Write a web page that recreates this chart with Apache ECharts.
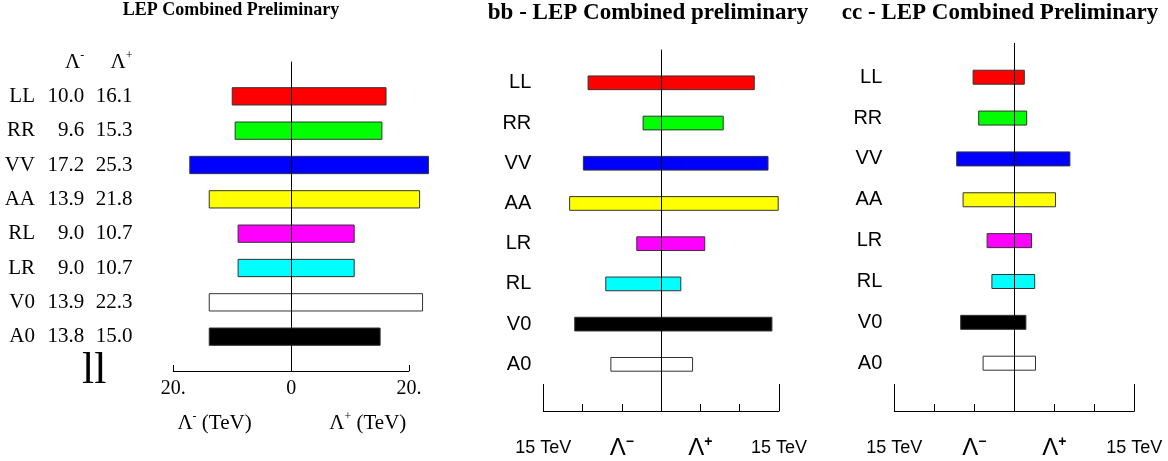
<!DOCTYPE html>
<html>
<head>
<meta charset="utf-8">
<script src="https://cdn.jsdelivr.net/npm/echarts@6/dist/echarts.min.js"></script>
<style>html,body{margin:0;padding:0;background:#fff}#c{width:1168px;height:461px}</style>
</head>
<body>
<div id="c"></div>
<script>
// ---------- data ----------
const llNames = ['LL', 'RR', 'VV', 'AA', 'RL', 'LR', 'V0', 'A0'];
const llMinusText = [10.0, 9.6, 17.2, 13.9, 9.0, 9.0, 13.9, 13.8];
const llPlusText = [16.1, 15.3, 25.3, 21.8, 10.7, 10.7, 22.3, 15.0];
const llMinus = [10.0, 9.5, 17.2, 13.9, 9.0, 9.0, 13.9, 13.9];
const llPlus = [16.1, 15.4, 23.3, 21.8, 10.7, 10.7, 22.3, 15.1];
const llColors = ['#ff0000', '#00ff00', '#0000ff', '#ffff00', '#ff00ff', '#00ffff', '#ffffff', '#000000'];
const llTickValues = [-20, 0, 20];
const llTickText = ['20.', '0', '20.'];

const bbNames = ['LL', 'RR', 'VV', 'AA', 'LR', 'RL', 'V0', 'A0'];
const bbMinus = [9.3, 2.3, 9.9, 11.65, 3.1, 7.05, 11.0, 6.4];
const bbPlus = [11.85, 7.9, 13.6, 14.9, 5.55, 2.5, 14.1, 4.0];
const bbColors = ['#ff0000', '#00ff00', '#0000ff', '#ffff00', '#ff00ff', '#00ffff', '#000000', '#ffffff'];

const ccNames = ['LL', 'RR', 'VV', 'AA', 'LR', 'RL', 'V0', 'A0'];
const ccMinus = [5.15, 4.45, 7.2, 6.4, 3.4, 2.8, 6.7, 3.9];
const ccPlus = [1.25, 1.55, 6.95, 5.15, 2.15, 2.55, 1.45, 2.65];
const ccColors = ['#ff0000', '#00ff00', '#0000ff', '#ffff00', '#ff00ff', '#00ffff', '#000000', '#ffffff'];

const qqTickValues = [-15, -5, 5, 15];
const qqTickText = ['15 TeV', '{g|Λ}{s|−}', '{g|Λ}{s|+}', '15 TeV'];

// ---------- helpers ----------
const SERIF = 'Liberation Serif';
const SANS = 'Liberation Sans';
const rows = [0, 1, 2, 3, 4, 5, 6, 7];

function renderBars(h, colors) {
  return function (params, api) {
    const r = api.value(0);
    const a = api.coord([-api.value(1), r]);
    const b = api.coord([api.value(2), r]);
    return {
      type: 'rect',
      shape: { x: a[0], y: a[1] - h / 2, width: b[0] - a[0], height: h },
      style: { fill: colors[params.dataIndex], stroke: '#333', lineWidth: 1 }
    };
  };
}
function barData(minus, plus) { return minus.map((m, i) => [i, m, plus[i]]); }

function centerAxis(grid, min, max) {
  return {
    gridIndex: grid, type: 'value', inverse: true, min: min, max: max, position: 'left', z: 10,
    axisLine: { show: true, onZero: true, lineStyle: { color: '#000', width: 1 } },
    axisTick: { show: false }, axisLabel: { show: false }, splitLine: { show: false }
  };
}
function labelAxis(grid, min, max, offset, margin, values, fmt, style, rich) {
  return {
    gridIndex: grid, type: 'value', inverse: true, min: min, max: max, position: 'left', offset: offset,
    axisLine: { show: false, onZero: false }, axisTick: { show: false }, splitLine: { show: false },
    axisLabel: Object.assign({ customValues: values, formatter: fmt, margin: margin, color: '#000', rich: rich || {} }, style)
  };
}

const supRichSerif = {
  g: { fontFamily: SERIF, fontSize: 21, color: '#000', lineHeight: 24 },
  s: { fontFamily: SERIF, fontSize: 12, color: '#000', verticalAlign: 'top', lineHeight: 24 },
  t: { fontFamily: SERIF, fontSize: 21, color: '#000', lineHeight: 24 },
  big: { fontFamily: SERIF, fontSize: 44, color: '#000', padding: [0, 26, 0, 0] }
};
const supRichSans = {
  g: { fontFamily: SANS, fontSize: 24, color: '#000', lineHeight: 26 },
  s: { fontFamily: SANS, fontSize: 14, fontWeight: 'bold', color: '#000', verticalAlign: 'top', lineHeight: 22 }
};

const serifLbl = { fontFamily: SERIF, fontSize: 21 };
const sansLbl = { fontFamily: SANS, fontSize: 20 };

function qqXAxes(grid) {
  return [
    {
      gridIndex: grid, type: 'value', min: -15, max: 15, interval: 5, position: 'bottom',
      axisLine: { show: true, onZero: false, lineStyle: { color: '#000', width: 1 } },
      axisTick: { show: true, inside: true, length: 7, lineStyle: { color: '#000', width: 1 } },
      splitLine: { show: false },
      axisLabel: {
        customValues: qqTickValues, margin: 24, color: '#000', fontFamily: SANS, fontSize: 18, lineHeight: 26,
        formatter: v => qqTickText[qqTickValues.indexOf(v)], rich: supRichSans
      }
    },
    {
      gridIndex: grid, type: 'value', min: -15, max: 15, position: 'bottom',
      axisLine: { show: false, onZero: false },
      axisTick: { show: true, inside: true, length: 27, customValues: [-15, 15], lineStyle: { color: '#000', width: 1 } },
      axisLabel: { show: false }, splitLine: { show: false }
    }
  ];
}

// ---------- option ----------
const G0 = { left: 173.3, top: 62, width: 235.7, height: 309 };
const G1 = { left: 543.3, top: 50, width: 235.7, height: 363 };
const G2 = { left: 894.3, top: 43.3, width: 240, height: 369 };

const option = {
  backgroundColor: '#fff',
  animation: false,
  title: [
    { text: 'LEP Combined Preliminary', left: 231, top: 1, textAlign: 'center', padding: 0,
      textStyle: { fontFamily: SERIF, fontWeight: 'bold', fontSize: 18, color: '#000' } },
    { text: 'bb - LEP Combined preliminary', left: 648, top: 2, textAlign: 'center', padding: 0,
      textStyle: { fontFamily: SERIF, fontWeight: 'bold', fontSize: 23, color: '#000' } },
    { text: 'cc - LEP Combined Preliminary', left: 1000, top: 2, textAlign: 'center', padding: 0,
      textStyle: { fontFamily: SERIF, fontWeight: 'bold', fontSize: 23, color: '#000' } }
  ],
  grid: [G0, G1, G2],
  xAxis: [
    {
      gridIndex: 0, type: 'value', min: -20, max: 20, interval: 20, position: 'bottom',
      axisLine: { show: true, onZero: false, lineStyle: { color: '#000', width: 1 } },
      axisTick: { show: true, inside: true, length: 6, lineStyle: { color: '#000', width: 1 } },
      splitLine: { show: false },
      axisLabel: { margin: 8, color: '#000', fontFamily: SERIF, fontSize: 20,
        formatter: v => llTickText[llTickValues.indexOf(v)] }
    },
    {
      gridIndex: 0, type: 'value', min: -20, max: 20, position: 'bottom',
      axisLine: { show: false, onZero: false }, axisTick: { show: false }, splitLine: { show: false },
      axisLabel: { customValues: [-13, 13], margin: 40, color: '#000',
        formatter: v => v < 0 ? '{g|Λ}{s|-}{t| (TeV)}' : '{g|Λ}{s|+}{t| (TeV)}', rich: supRichSerif }
    },
    ...qqXAxes(1),
    ...qqXAxes(2)
  ],
  yAxis: [
    centerAxis(0, -1, 8),
    labelAxis(0, -1, 8, 138.3, 0, rows, v => llNames[v], serifLbl),
    labelAxis(0, -1, 8, 89, 0, [-1].concat(rows), v => v < 0 ? '{g|Λ}{s|-}' : llMinusText[v].toFixed(1), serifLbl, supRichSerif),
    labelAxis(0, -1, 8, 40.8, 0, [-1].concat(rows, [8]), v => v < 0 ? '{g|Λ}{s|+}' : (v > 7 ? '{big|ll}' : llPlusText[v].toFixed(1)), serifLbl, supRichSerif),
    centerAxis(1, -0.816, 8.16),
    labelAxis(1, -0.816, 8.16, 0, 12, rows, v => bbNames[v], sansLbl),
    centerAxis(2, -0.83, 8.17),
    labelAxis(2, -0.83, 8.17, 0, 12, rows, v => ccNames[v], sansLbl)
  ],
  series: [
    { type: 'custom', xAxisIndex: 0, yAxisIndex: 0, renderItem: renderBars(17.3, llColors),
      data: barData(llMinus, llPlus), encode: { x: [1, 2], y: 0 }, clip: false, z: 2 },
    { type: 'custom', xAxisIndex: 2, yAxisIndex: 4, renderItem: renderBars(13.7, bbColors),
      data: barData(bbMinus, bbPlus), encode: { x: [1, 2], y: 0 }, clip: false, z: 2 },
    { type: 'custom', xAxisIndex: 4, yAxisIndex: 6, renderItem: renderBars(14, ccColors),
      data: barData(ccMinus, ccPlus), encode: { x: [1, 2], y: 0 }, clip: false, z: 2 }
  ]
};

const chart = echarts.init(document.getElementById('c'), null, { renderer: 'canvas' });
chart.setOption(option);
</script>
</body>
</html>
